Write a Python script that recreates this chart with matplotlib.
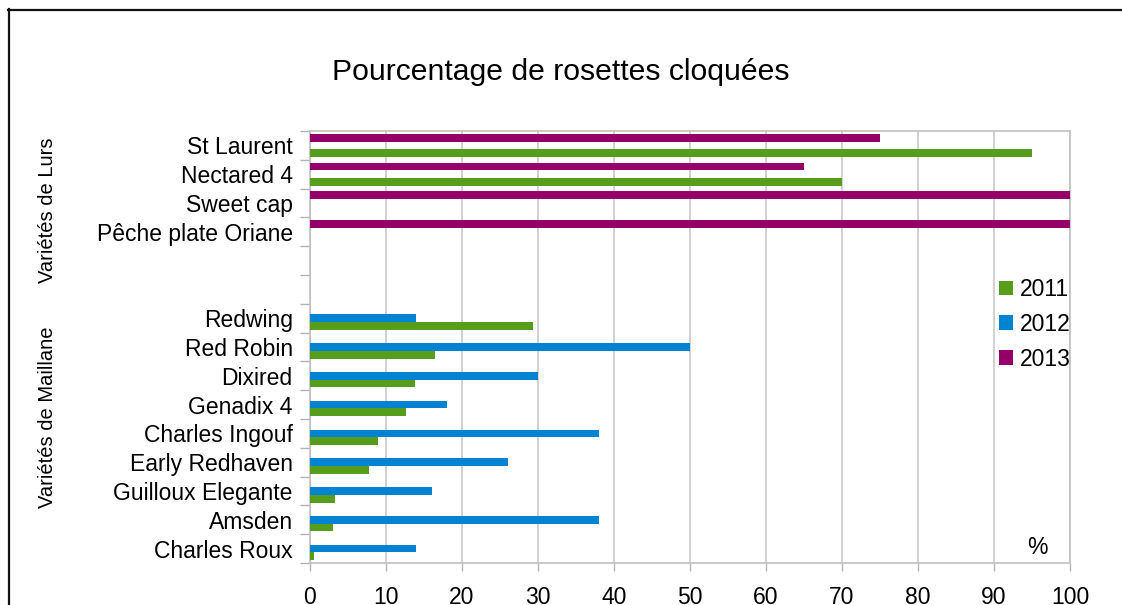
import matplotlib
matplotlib.use("Agg")
import matplotlib.pyplot as plt
from matplotlib.lines import Line2D
from matplotlib.patches import Patch
import numpy as np

plt.rcParams['font.family'] = ['Liberation Sans', 'DejaVu Sans']

# Categories listed from bottom to top
categories = ["Charles Roux", "Amsden", "Guilloux Elegante", "Early Redhaven",
              "Charles Ingouf", "Genadix 4", "Dixired", "Red Robin", "Redwing",
              "", "", "Pêche plate Oriane", "Sweet cap", "Nectared 4", "St Laurent"]
v2011 = [0.5, 3.0, 3.3, 7.8, 8.9, 12.6, 13.8, 16.4, 29.3, 0, 0, 0, 0, 70, 95]
v2012 = [14, 38, 16, 26, 38, 18, 30, 50, 14, 0, 0, 0, 0, 0, 0]
v2013 = [0, 0, 0, 0, 0, 0, 0, 0, 0, 0, 0, 100, 100, 65, 75]
series_names = ["2011", "2012", "2013"]
colors = ["#579d1c", "#0084d1", "#940068"]
xticks = [0, 10, 20, 30, 40, 50, 60, 70, 80, 90, 100]

W, H = 1122, 605
fig = plt.figure(figsize=(W / 100, H / 100), dpi=100)
ax = fig.add_axes([310 / W, 1 - 563 / H, (1070 - 310) / W, (563 - 131) / H])

y = np.arange(len(categories))
bh = 0.8 / 3
for i, (vals, c) in enumerate(zip([v2011, v2012, v2013], colors)):
    ax.barh(y + (i - 1) * bh, vals, height=bh, color=c, zorder=3, linewidth=0)

ax.set_xlim(0, 100)
ax.set_ylim(-0.5, len(categories) - 0.5)
ax.set_xticks(xticks)
ax.set_xticklabels([str(t) for t in xticks], fontsize=16.5)
ax.set_yticks(y)
ax.set_yticklabels(categories, fontsize=16.5)
ax.set_yticks(np.arange(-0.5, len(categories)), minor=True)
ax.tick_params(axis='y', which='major', length=0, pad=12.5)
ax.tick_params(axis='y', which='minor', length=7, color='#b3b3b3', width=1)
ax.tick_params(axis='x', which='major', length=6, color='#b3b3b3', width=1, pad=10.5)
ax.grid(axis='x', color='#c8c8c8', linewidth=1.2, zorder=0)
for s in ax.spines.values():
    s.set_color('#c0c0c0')
    s.set_linewidth(1.2)

# Title centered on figure
fig.text(0.5, 1 - 72 / H, "Pourcentage de rosettes cloquées", ha='center', va='center', fontsize=21.7)

# Group labels
fig.text(48 / W, 1 - 210 / H, "Variétés de Lurs", rotation=90, ha='center', va='center', fontsize=14.5)
fig.text(48 / W, 1 - 417 / H, "Variétés de Maillane", rotation=90, ha='center', va='center', fontsize=14.5)

# % unit label
fig.text(1037 / W, 1 - 547 / H, "%", ha='center', va='center', fontsize=16.5)

# Legend
handles = [Patch(facecolor=c, edgecolor='none') for c in colors]
leg = fig.legend(handles, series_names, loc='upper left', bbox_to_anchor=(999 / W, 1 - 278 / H),
                 frameon=False, fontsize=16.5, borderpad=0, borderaxespad=0,
                 handlelength=0.62, handleheight=0.62, handletextpad=0.3, labelspacing=0.52)

# Outer border (left and top)
fig.add_artist(Line2D([8.5 / W, 8.5 / W], [0, 1 - 9 / H], color='#111111', linewidth=1.6))
fig.add_artist(Line2D([8 / W, 1], [1 - 9.5 / H, 1 - 9.5 / H], color='#111111', linewidth=1.6))

fig.savefig("out.png", dpi=100)
